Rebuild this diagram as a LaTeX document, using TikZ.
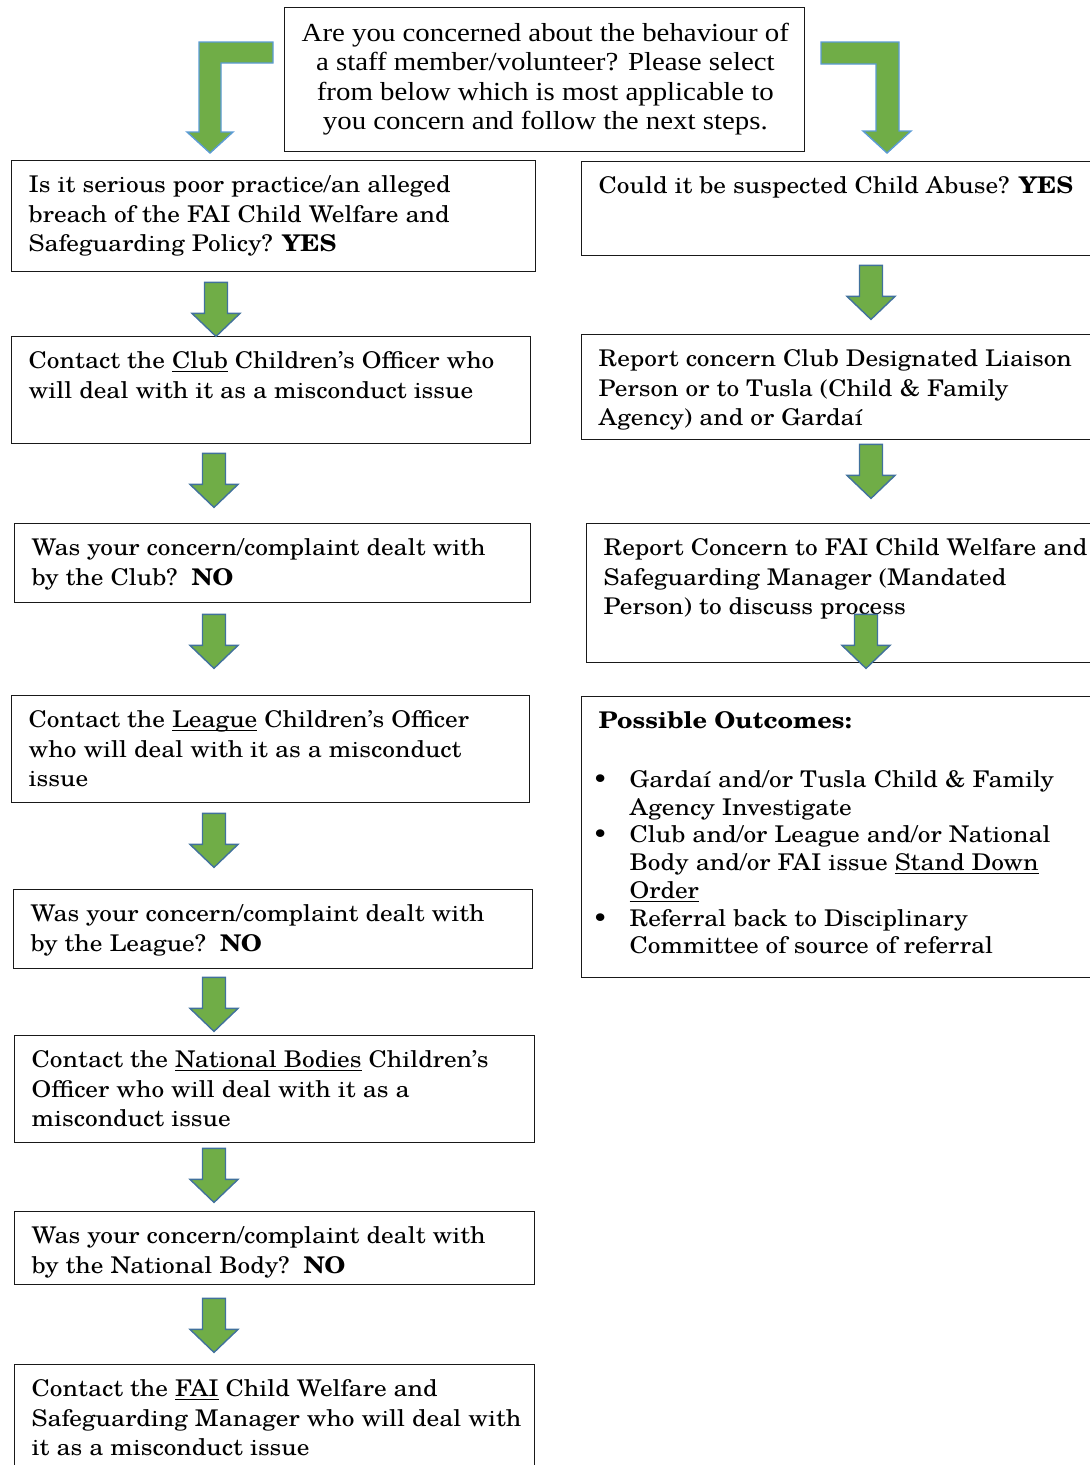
\documentclass[tikz,border=0pt]{standalone}
\usepackage{fontspec}
\setmainfont{texgyreschola}[Extension=.otf,UprightFont=*-regular,BoldFont=*-bold,ItalicFont=*-italic,BoldItalicFont=*-bolditalic,FakeStretch=1.1]
\newfontfamily\timesfont{Liberation Serif}[FakeStretch=1.11]
\usetikzlibrary{calc}
\definecolor{arrowgreen}{HTML}{70AD47}
\definecolor{arrowline}{HTML}{41719C}
\definecolor{bentline}{HTML}{5B9BD5}
\newcommand{\boxtext}[3]{\parbox[t][#2pt][t]{#1pt}{\begin{tabular}[t]{@{}l@{}}#3\end{tabular}}}
\newcommand{\undl}[1]{\setbox0\hbox{#1}\rlap{\rule[-3.6pt]{\wd0}{1.2pt}}\box0\relax}
\def\blockarrow#1#2#3{\draw[blockarrow] ($(#2,0 |- #1.south)+(-11.5,#3)$) -- ++(0,31) -- ++(-12.5,0) -- ++(24,23) -- ++(24,-23) -- ++(-12.5,0) -- ++(0,-31) -- cycle;}

\begin{document}
\begin{tikzpicture}[x=1pt,y=-1pt,font=\fontsize{23}{29.7}\selectfont,
	box/.style={draw=black!90,line width=1.4pt,anchor=north west,inner xsep=17pt,inner ysep=11pt},
	blockarrow/.style={fill=arrowgreen,draw=arrowline,line width=1.4pt},
	bentarrow/.style={fill=arrowgreen,draw=bentline,line width=1.4pt}]
		%%%%% START %%%%%
		\useasboundingbox (0,0) rectangle (1090,1465);
		
		\node[box,inner ysep=13pt] (concern) at (284,7) {\parbox[t][118pt][t]{486pt}{\centering\timesfont\fontsize{26}{29.5}\selectfont
			\begin{tabular}[t]{@{}c@{}}Are you concerned about the behaviour of\\a staff member/volunteer? Please select\\from below which is most applicable to\\you concern and follow the next steps.\end{tabular}}};
		
		\draw[bentarrow] (273,42) -- (199,42) -- (199,132) -- (187,132) -- (210,153) -- (233,132) -- (221,132) -- (221,63) -- (273,63) -- cycle;
		\draw[bentarrow] (821,42) -- (899,42) -- (899,131) -- (911,131) -- (887,153) -- (863,131) -- (876,131) -- (876,64) -- (821,64) -- cycle;
		
		% left column
		\node[box] (breach) at (11,160) {\boxtext{490}{89}{Is it serious poor practice/an alleged\\breach of the FAI Child Welfare and\\Safeguarding Policy? \textbf{YES}}};
		\node[box] (clubco) at (11,336) {\boxtext{485}{85}{Contact the \undl{Club} Children’s Officer who\\will deal with it as a misconduct issue}};
		\node[box] (clubdealt) at (14,523) {\boxtext{482}{57}{Was your concern/complaint dealt with\\by the Club?~~\textbf{NO}}};
		\node[box] (leagueco) at (11,695) {\boxtext{484}{85}{Contact the \undl{League} Children’s Officer\\who will deal with it as a misconduct\\issue}};
		\node[box] (leaguedealt) at (13,889) {\boxtext{485}{57}{Was your concern/complaint dealt with\\by the League?~~\textbf{NO}}};
		\node[box] (natco) at (14,1035) {\boxtext{486}{85}{Contact the \undl{National Bodies} Children’s\\Officer who will deal with it as a\\misconduct issue}};
		\node[box] (natdealt) at (14,1211) {\boxtext{486}{51}{Was your concern/complaint dealt with\\by the National Body?~~\textbf{NO}}};
		\node[box] (faico) at (14,1364) {\boxtext{486}{88}{Contact the \undl{FAI} Child Welfare and\\Safeguarding Manager who will deal with\\it as a misconduct issue}};
		
		% right column
		\node[box] (abuse) at (581,161) {\boxtext{485}{72}{Could it be suspected Child Abuse? \textbf{YES}}};
		\node[box] (liaison) at (581,334) {\boxtext{485}{83}{Report concern Club Designated Liaison\\Person or to Tusla (Child \& Family\\Agency) and or Gardaí}};
		\node[box] (mandated) at (586,523) {\boxtext{480}{117}{Report Concern to FAI Child Welfare and\\Safeguarding Manager (Mandated\\Person) to discuss process}};
		\node[box] (outcomes) at (581,696) {\boxtext{485}{259}{\textbf{Possible Outcomes:}\\
			\\[-0.4pt]
			\hspace*{-6pt}\makebox[37pt][l]{\textbullet}Gardaí and/or Tusla Child \& Family\\[-2pt]
			\hspace*{31pt}Agency Investigate\\[-2pt]
			\hspace*{-6pt}\makebox[37pt][l]{\textbullet}Club and/or League and/or National\\[-2pt]
			\hspace*{31pt}Body and/or FAI issue \undl{Stand Down}\\[-2pt]
			\hspace*{31pt}\undl{Order}\\[-2pt]
			\hspace*{-6pt}\makebox[37pt][l]{\textbullet}Referral back to Disciplinary\\[-2pt]
			\hspace*{31pt}Committee of source of referral}};
		
		% block arrows
		\blockarrow{breach}{216}{10}
		\blockarrow{clubco}{214}{9}
		\blockarrow{clubdealt}{214}{11}
		\blockarrow{leagueco}{214}{10}
		\blockarrow{leaguedealt}{214}{8}
		\blockarrow{natco}{214}{5}
		\blockarrow{natdealt}{214}{13}
		\blockarrow{abuse}{871}{9}
		\blockarrow{liaison}{871}{4}
		\blockarrow{mandated}{866}{-49}
		%%%%% END %%%%%
\end{tikzpicture}
\end{document}
